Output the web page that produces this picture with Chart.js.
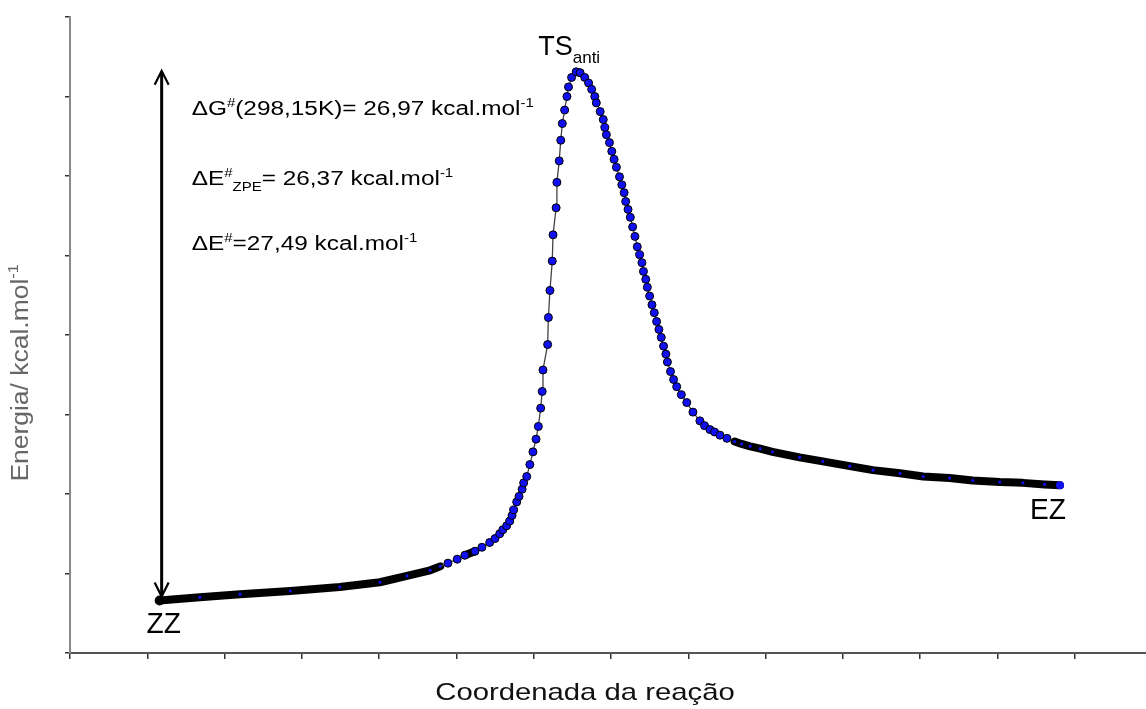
<!DOCTYPE html>
<html>
<head>
<meta charset="utf-8">
<script src="https://cdn.jsdelivr.net/npm/chart.js@4"></script>
<style>
  html, body { margin: 0; padding: 0; background: #fff; overflow: hidden; }
  #wrap { width: 1160px; height: 709px; position: relative; }
</style>
</head>
<body>
<div id="wrap"><canvas id="energyChart"></canvas></div>
<script>
// reaction coordinate (arbitrary units, one unit per x tick)
const reactionCoord = [
  1.16, 1.68, 2.20, 2.85, 3.49, 4.01, 4.36, 4.66, 4.79, 4.89,
  5.01, 5.11, 5.24, 5.33, 5.43, 5.50, 5.56, 5.60, 5.65, 5.69,
  5.72, 5.74, 5.78, 5.81, 5.85, 5.87, 5.91, 5.95, 5.99, 6.03,
  6.06, 6.09, 6.11, 6.12, 6.18, 6.19, 6.21, 6.24, 6.25, 6.29,
  6.30, 6.33, 6.35, 6.37, 6.40, 6.43, 6.45, 6.49, 6.55, 6.60,
  6.66, 6.71, 6.75, 6.79, 6.81, 6.86, 6.90, 6.92, 6.94, 6.98,
  7.01, 7.04, 7.07, 7.11, 7.14, 7.17, 7.19, 7.22, 7.25, 7.28,
  7.31, 7.34, 7.37, 7.40, 7.42, 7.45, 7.47, 7.50, 7.53, 7.56,
  7.59, 7.62, 7.65, 7.68, 7.71, 7.73, 7.77, 7.81, 7.85, 7.91,
  7.98, 8.06, 8.15, 8.21, 8.28, 8.34, 8.41, 8.50, 8.60, 8.69,
  8.80, 8.93, 9.09, 9.44, 9.74, 10.09, 10.39, 10.74, 11.04, 11.38,
  11.68, 12.03, 12.33, 12.61, 12.81
];
// energy (arbitrary units, one unit per y tick)
const energy = [
  0.66, 0.70, 0.74, 0.78, 0.83, 0.89, 0.97, 1.04, 1.09, 1.13,
  1.18, 1.23, 1.28, 1.33, 1.39, 1.44, 1.50, 1.55, 1.60, 1.66,
  1.73, 1.80, 1.90, 1.97, 2.06, 2.14, 2.22, 2.37, 2.53, 2.69,
  2.85, 3.08, 3.29, 3.56, 3.88, 4.22, 4.56, 4.93, 5.26, 5.60,
  5.92, 6.19, 6.45, 6.66, 6.83, 7.00, 7.12, 7.24, 7.31, 7.30,
  7.24, 7.17, 7.09, 7.00, 6.92, 6.81, 6.71, 6.61, 6.52, 6.42,
  6.31, 6.21, 6.11, 5.99, 5.89, 5.79, 5.68, 5.58, 5.48, 5.36,
  5.24, 5.11, 5.01, 4.91, 4.80, 4.70, 4.60, 4.49, 4.38, 4.28,
  4.17, 4.07, 3.97, 3.86, 3.76, 3.66, 3.54, 3.44, 3.35, 3.25,
  3.15, 3.03, 2.92, 2.86, 2.81, 2.78, 2.74, 2.70, 2.66, 2.63,
  2.60, 2.57, 2.53, 2.46, 2.41, 2.35, 2.30, 2.26, 2.22, 2.20,
  2.17, 2.15, 2.14, 2.12, 2.11
];
const xRange = [0, 14];
const yRange = [0, 8];

const startLabel = 'ZZ';
const endLabel = 'EZ';
const peakLabel = ['TS', 'anti'];
const xTitle = 'Coordenada da reação';
const yTitle = ['Energia/ kcal.mol', '-1'];
const barrierLines = [
  [['\u0394G', 0], ['#', 1], ['(298,15K)= 26,97 kcal.mol', 0], ['-1', 1]],
  [['\u0394E', 0], ['#', 1], ['ZPE', -1], ['= 26,37 kcal.mol', 0], ['-1', 1]],
  [['\u0394E', 0], ['#', 1], ['=27,49 kcal.mol', 0], ['-1', 1]]
];

const points = reactionCoord.map((x, i) => ({ x: x, y: energy[i] }));

// flat stretches of the curve are drawn as a thick dark band like the original markers
const FLAT = 0.4;
const localSlope = (i) => {
  const a = Math.max(0, i - 1), b = Math.min(energy.length - 1, i + 1);
  return Math.abs(energy[b] - energy[a]) / Math.abs(reactionCoord[b] - reactionCoord[a]);
};
const isFlat = (i) => localSlope(i) < FLAT;
const segFlat = (c) => Math.abs(c.p1.y - c.p0.y) / Math.abs(c.p1.x - c.p0.x) < FLAT;

const FONT = '"Liberation Sans", Arial, sans-serif';

// draws text made of pieces: [text, 0 normal | 1 superscript | -1 subscript]
const drawRich = (ctx, parts, x, y, size, sx, align) => {
  ctx.save();
  const smallSize = Math.round(size * 0.62);
  const fontFor = (k) => (k === 0 ? size : smallSize) + 'px ' + FONT;
  let total = 0;
  parts.forEach(([t, k]) => { ctx.font = fontFor(k); total += ctx.measureText(t).width; });
  ctx.translate(x, y);
  ctx.scale(sx, 1);
  let cx = align === 'center' ? -total / 2 : 0;
  ctx.textBaseline = 'alphabetic';
  ctx.textAlign = 'left';
  parts.forEach(([t, k]) => {
    ctx.font = fontFor(k);
    const dy = k === 1 ? -size * 0.42 : (k === -1 ? size * 0.3 : 0);
    ctx.fillText(t, cx, dy);
    cx += ctx.measureText(t).width;
  });
  ctx.restore();
};

const annotations = {
  id: 'annotations',
  afterDatasetsDraw(chart) {
    const { ctx, scales: { x, y } } = chart;
    const first = points[0];
    const last = points[points.length - 1];
    const peak = points.reduce((m, p) => (p.y > m.y ? p : m), points[0]);
    const sx0 = x.getPixelForValue(first.x), sy0 = y.getPixelForValue(first.y);
    const exEnd = x.getPixelForValue(last.x), eyEnd = y.getPixelForValue(last.y);
    const px = x.getPixelForValue(peak.x), py = y.getPixelForValue(peak.y);

    // double headed barrier arrow
    const ax = sx0 + 2, top = py - 1, bottom = sy0 - 4;
    ctx.save();
    ctx.strokeStyle = '#000';
    ctx.lineWidth = 3;
    ctx.beginPath();
    ctx.moveTo(ax, top + 1);
    ctx.lineTo(ax, bottom - 1);
    ctx.stroke();
    ctx.lineWidth = 2.2;
    ctx.beginPath();
    ctx.moveTo(ax - 7, top + 14); ctx.lineTo(ax, top); ctx.lineTo(ax + 7, top + 14);
    ctx.moveTo(ax - 7, bottom - 14); ctx.lineTo(ax, bottom); ctx.lineTo(ax + 7, bottom - 14);
    ctx.stroke();
    ctx.restore();

    ctx.fillStyle = '#000';
    barrierLines.forEach((line, i) => {
      drawRich(ctx, line, ax + 30, [115, 185, 250][i], 19.5, 1.25, 'left');
    });

    drawRich(ctx, [[startLabel, 0]], sx0 + 4, sy0 + 32, 29, 0.97, 'center');
    drawRich(ctx, [[endLabel, 0]], exEnd - 12, eyEnd + 34, 29, 0.97, 'center');
    drawRich(ctx, [[peakLabel[0], 0], [peakLabel[1], -1]], px - 38, py - 17, 27, 1.0, 'left');

    // axis titles
    ctx.fillStyle = '#111';
    drawRich(ctx, [[xTitle, 0]], 585, 700, 24, 1.22, 'center');
    ctx.save();
    ctx.translate(28, 373);
    ctx.rotate(-Math.PI / 2);
    ctx.fillStyle = '#666';
    drawRich(ctx, [[yTitle[0], 0], [yTitle[1], 1]], 0, 0, 23, 1.15, 'center');
    ctx.restore();
  }
};

const ctx = document.getElementById('energyChart').getContext('2d');
new Chart(ctx, {
  type: 'line',
  data: {
    datasets: [{
      data: points,
      borderColor: '#444',
      borderWidth: 1.3,
      borderCapStyle: 'round',
      borderJoinStyle: 'round',
      tension: 0,
      segment: {
        borderWidth: (c) => (segFlat(c) ? 8 : 1.3),
        borderColor: (c) => (segFlat(c) ? '#000' : '#444')
      },
      pointRadius: (c) => {
        if (c.dataIndex === 0) return 5;
        if (c.dataIndex === points.length - 1) return 4;
        return isFlat(c.dataIndex) ? 1.6 : 4;
      },
      pointBackgroundColor: (c) => (c.dataIndex === 0 ? '#000' : '#1010f0'),
      pointBorderColor: '#000',
      pointBorderWidth: (c) => (c.dataIndex === points.length - 1 || isFlat(c.dataIndex) ? 0 : 1),
      pointHoverRadius: 0
    }]
  },
  options: {
    responsive: true,
    maintainAspectRatio: false,
    animation: false,
    events: [],
    layout: { padding: { left: 65, top: 17, right: 8, bottom: 50 } },
    plugins: {
      legend: { display: false },
      tooltip: { enabled: false }
    },
    scales: {
      x: {
        type: 'linear',
        min: xRange[0],
        max: xRange[1],
        ticks: { display: false, stepSize: 1 },
        grid: { display: true, drawOnChartArea: false, drawTicks: true, tickLength: 6, color: '#333', lineWidth: 1.5 },
        border: { display: true, color: '#555', width: 2 }
      },
      y: {
        min: yRange[0],
        max: yRange[1],
        ticks: { display: false, stepSize: 1 },
        grid: { display: true, drawOnChartArea: false, drawTicks: true, tickLength: 5, color: '#333', lineWidth: 1.5 },
        border: { display: true, color: '#888', width: 2 }
      }
    }
  },
  plugins: [annotations]
});
</script>
</body>
</html>
